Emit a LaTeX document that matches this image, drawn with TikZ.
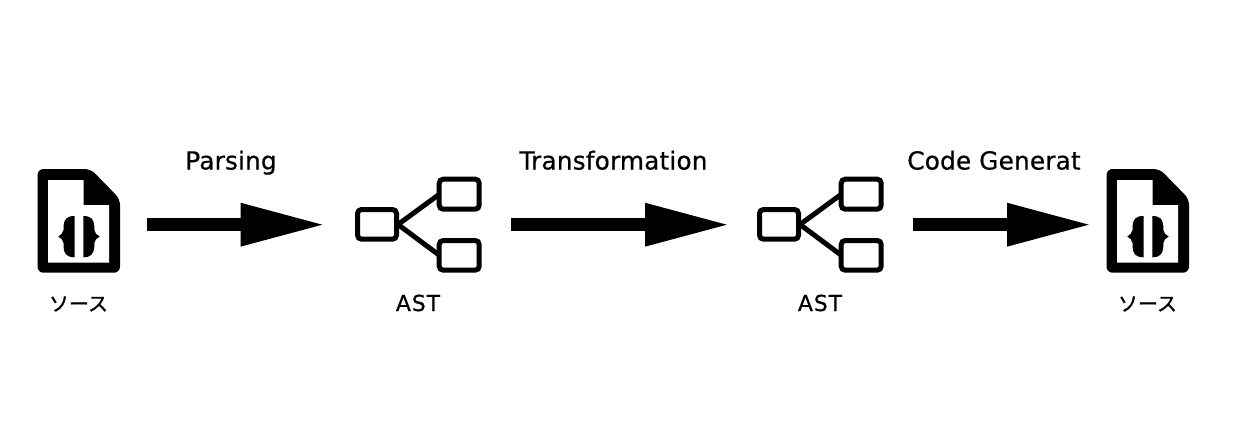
\documentclass[tikz,border=0pt]{standalone}
\usepackage{fontspec}
\setmainfont{DejaVu Sans}
\newfontfamily\steplabelfont[LetterSpace=0.6,FakeBold=0.5]{DejaVu Sans}
\newfontfamily\astfont[LetterSpace=4,FakeBold=0.5]{DejaVu Sans}
\newfontfamily\kanafont[FakeBold=1.0]{Noto Sans CJK JP}
\usetikzlibrary{arrows.meta}
\tikzset{
  x=1pt,y=-1pt,
  slot/.style={minimum width=#1,minimum height=100pt,inner sep=0pt,outer sep=0pt},
  flow/.style={line width=12.5pt,-{Triangle[length=85pt,width=40pt]}},
  steplabel/.style={font=\steplabelfont\fontsize{24.8}{28}\selectfont,inner sep=0pt,anchor=base},
  kanacap/.style={font=\kanafont\fontsize{20}{23}\selectfont,inner sep=0pt,anchor=base},
  astcap/.style={font=\astfont\fontsize{22}{23}\selectfont,inner sep=0pt,anchor=base},
  tbox/.style={draw=black,line width=5pt,rounded corners=4pt},
  tline/.style={draw=black,line width=5pt}
}
\newcommand{\fileicon}[1]{%
  \begin{scope}[shift={(#1,0)}]
    \fill[black,rounded corners=6pt] (37.5,169) -- (90.7,169) -- (120,199) -- (120,272.7) -- (37.5,272.7) -- cycle;
    \fill[white] (48,180) -- (83.5,180) -- (83.5,205) -- (109,205) -- (109,262.7) -- (48,262.7) -- cycle;
    \fill[black] (74.5,216) .. controls (67,216) and (64,219) .. (63.5,226) -- (63.5,230)
      .. controls (63,233) and (61,235) .. (58.3,236.5)
      .. controls (61,238) and (63,240) .. (63.5,243) -- (63.5,247)
      .. controls (64,254) and (67,257.3) .. (74.5,257.3) -- cycle;
    \fill[black] (83.3,216) .. controls (90.8,216) and (93.8,219) .. (94.3,226) -- (94.3,230)
      .. controls (94.8,233) and (96.8,235) .. (99.7,236.5)
      .. controls (96.8,238) and (94.8,240) .. (94.3,243) -- (94.3,247)
      .. controls (93.8,254) and (90.8,257.3) .. (83.3,257.3) -- cycle;
  \end{scope}}
\newcommand{\asticon}[1]{%
  \begin{scope}[shift={(#1,0)}]
    \draw[tbox] (357.5,209.5) rectangle (396.5,239.2);
    \draw[tbox] (439.2,179.2) rectangle (479.2,209.2);
    \draw[tbox] (439.2,240.5) rectangle (479.2,270.2);
    \draw[tline] (398,224.5) -- (439,194.5);
    \draw[tline] (398,224.5) -- (439,255);
  \end{scope}}
\begin{document}
\begin{tikzpicture}
\useasboundingbox (0,0) rectangle (1236,429);
\fill[white] (0,0) rectangle (1236,429);
\fileicon{0}
\asticon{0}
\asticon{402}
\fileicon{1069}
\node[slot=82.5pt] (src) at (78.75,224.7) {};
\node[slot=126pt] (ast1) at (418.5,224.7) {};
\node[slot=126pt] (ast2) at (820.5,224.7) {};
\node[slot=82.5pt] (dst) at (1147.75,224.7) {};
\draw[flow,shorten <=27pt,shorten >=30pt] (src.east) -- (ast1.west);
\draw[flow,shorten <=29.5pt,shorten >=27.5pt] (ast1.east) -- (ast2.west);
\draw[flow,shorten <=29.5pt,shorten >=14.5pt] (ast2.east) -- (dst.west);
\node[steplabel] (l1) at (231,169.5) {Parsing};
\node[steplabel] (l2) at (613.5,169.5) {Transformation};
\node[steplabel] (l3) at (994,169.5) {Code Generat};
\node[kanacap] (c1) at (78.5,311) {ソース};
\node[astcap] (c2) at (418,311) {AST};
\node[astcap] (c3) at (820,311) {AST};
\node[kanacap] (c4) at (1147.5,311) {ソース};
\end{tikzpicture}
\end{document}
